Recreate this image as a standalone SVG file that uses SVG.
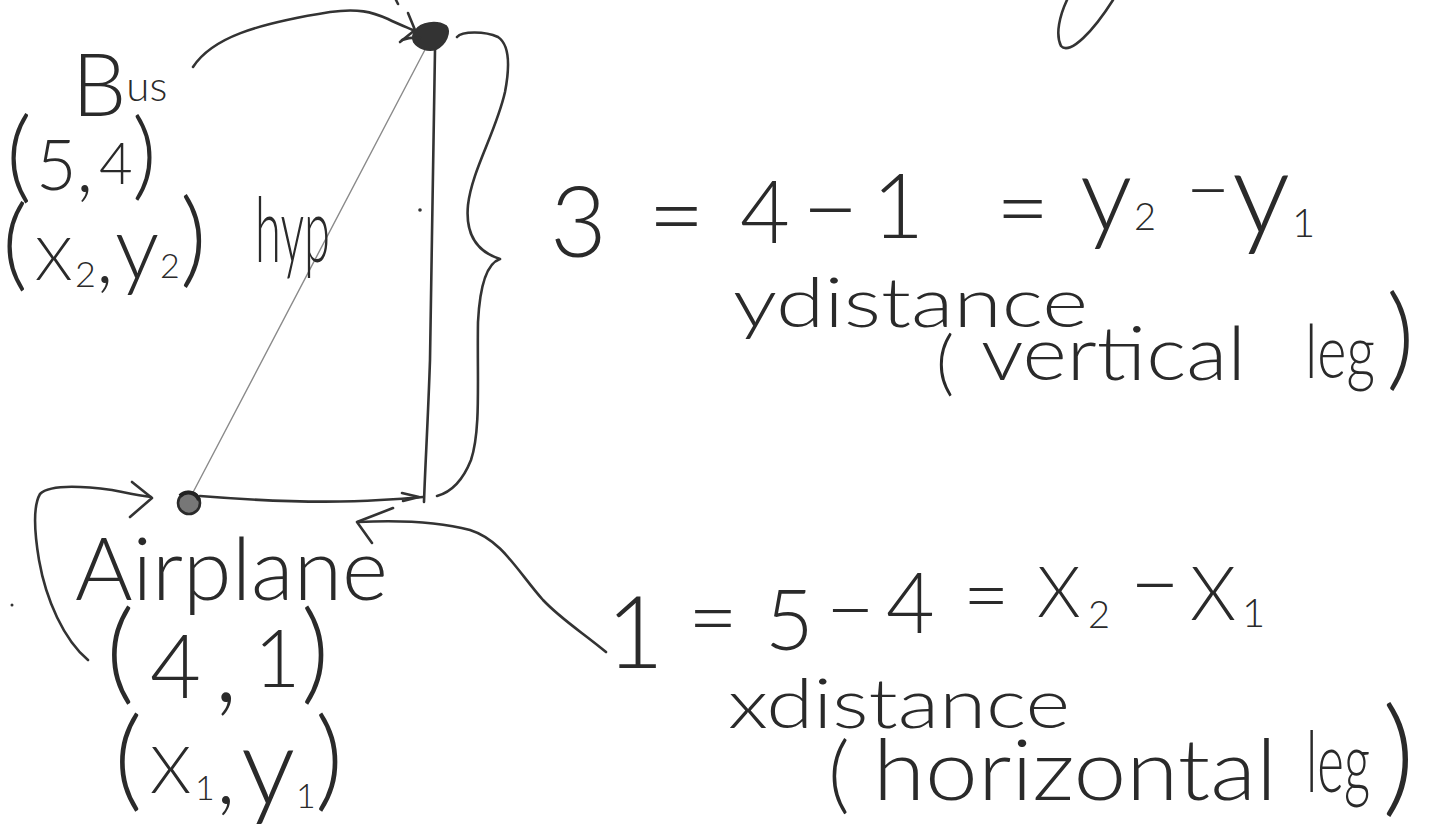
<svg xmlns="http://www.w3.org/2000/svg" width="1438" height="840" viewBox="0 0 1438 840">
<style>
.hw{font-family:Lato,"Liberation Sans","DejaVu Sans",sans-serif;font-weight:300;fill:#2a2a2a}
.ln{fill:none;stroke:#333;stroke-width:2.6;stroke-linecap:round;stroke-linejoin:round}
.thin{fill:none;stroke:#8a8a8a;stroke-width:1.4;stroke-linecap:round}
</style>
<rect width="1438" height="840" fill="#fff"/>

<g id="connectors">
  <!-- hypotenuse -->
  <path class="thin" d="M189,500 L428,44"/>
  <!-- vertical leg -->
  <path class="ln" d="M435,50 C433,130 432,260 430,360 C428,420 425,470 424,502"/>
  <!-- horizontal leg -->
  <path class="ln" d="M200,496 C250,500 320,504 380,500 C400,499 412,498 423,497"/>
  <path class="ln" d="M402,493 L419,497 L403,501"/>
  <!-- brace -->
  <path class="ln" d="M457,37 C462,31 485,31 498,37 C510,45 510,66 505,92 C496,132 472,170 468,205 C465,236 478,252 500,259 M500,259 C488,263 480,282 478,322 C477,380 481,430 471,460 C463,480 452,492 437,496"/>
  <!-- arrow from Bus label to top point -->
  <path class="ln" d="M193,67 C212,38 255,24 330,12 C358,8 372,12 388,19 C398,24 406,27 413,30"/>
  <path class="ln" d="M408,13 L415,30 L400,42"/>
  <!-- arrow from Airplane label to bottom point -->
  <path class="ln" d="M88,660 C64,640 46,600 39,560 C34,530 33,506 40,494 C50,484 82,486 112,490 C127,493 140,496 151,497"/>
  <path class="ln" d="M132,482 L152,498 L130,517"/>
  <!-- arrow from x distance to horizontal leg -->
  <path class="ln" d="M606,652 C582,632 562,620 543,600 C518,572 502,540 470,530 C440,522 400,520 358,522"/>
  <path class="ln" d="M393,508 L357,522 L372,543"/>
  <!-- fragment at top edge -->
  <path class="ln" d="M1067,0 C1060,15 1055,34 1061,46 C1070,56 1094,30 1113,0"/>
  <path class="ln" d="M396,0 L398,4"/>
</g>

<g id="bus">
  <path d="M416,30 C421,23 436,20 446,26 C451,32 446,44 436,49 C428,52 418,48 414,42 C412,38 413,33 416,30 Z" fill="#333" stroke="#333" stroke-width="2"/>
  <path class="ln" d="M402,40 C408,38 414,37 420,38"/>
  <text class="hw" x="72" y="116" font-size="86">B<tspan font-size="42" y="101">us</tspan></text>
  <text class="hw" y="190"><tspan x="6" y="190" font-size="100">(</tspan><tspan x="36" y="190" font-size="70">5</tspan><tspan x="76" y="192" font-size="80">,</tspan><tspan x="99" y="184" font-size="58">4</tspan><tspan x="132" y="188" font-size="96">)</tspan></text>
  <text class="hw" y="280"><tspan x="2" y="278" font-size="100">(</tspan><tspan x="35" y="280" font-size="60">X</tspan><tspan x="75" y="287" font-size="36">2</tspan><tspan x="96" y="283" font-size="80">,</tspan><tspan x="115" y="279" font-size="88">y</tspan><tspan x="160" y="278" font-size="34">2</tspan><tspan x="180" y="274" font-size="104">)</tspan></text>
</g>

<g id="hyp-label">
  <text class="hw" x="255" y="262" font-size="90" textLength="75" lengthAdjust="spacingAndGlyphs">hyp</text>
  <circle cx="420" cy="210" r="1.8" fill="#333"/>
</g>

<g id="airplane">
  <circle cx="189" cy="503" r="11" fill="#777" stroke="#2a2a2a" stroke-width="2.6"/>
  <path d="M180,496 C186,490 196,492 199,500" fill="none" stroke="#222" stroke-width="4"/>
  <text class="hw" x="75" y="600" font-size="86" textLength="313" lengthAdjust="spacingAndGlyphs">Airplane</text>
  <text class="hw" y="690"><tspan x="106" y="690" font-size="110">(</tspan><tspan x="150" y="698" font-size="88">4</tspan><tspan x="214" y="702" font-size="110">,</tspan><tspan x="254" y="687" font-size="80">1</tspan><tspan x="301" y="690" font-size="110">)</tspan></text>
  <text class="hw" y="797"><tspan x="114" y="797" font-size="110">(</tspan><tspan x="150" y="793" font-size="66">X</tspan><tspan x="195" y="800" font-size="34">1</tspan><tspan x="216" y="804" font-size="90">,</tspan><tspan x="241" y="805" font-size="108">y</tspan><tspan x="296" y="808" font-size="34">1</tspan><tspan x="315" y="797" font-size="110">)</tspan></text>
  <circle cx="12" cy="605" r="1.5" fill="#333"/>
</g>

<g id="vertical-leg-label">
  <text class="hw" y="250"><tspan x="550" y="257" font-size="98">3</tspan><tspan x="648" y="250" font-size="98">=</tspan><tspan x="740" y="243" font-size="86">4</tspan><tspan x="802" y="243" font-size="98">−</tspan><tspan x="872" y="238" font-size="90">1</tspan><tspan x="996" y="240" font-size="92">=</tspan><tspan x="1080" y="231" font-size="104">y</tspan><tspan x="1134" y="230" font-size="38">2</tspan><tspan x="1186" y="216" font-size="76">−</tspan><tspan x="1232" y="233" font-size="116">y</tspan><tspan x="1292" y="237" font-size="40">1</tspan></text>
  <text class="hw" x="733" y="327" font-size="68" textLength="355" lengthAdjust="spacingAndGlyphs">ydistance</text>
  <text class="hw" y="380"><tspan x="936" y="387" font-size="70">(</tspan><tspan x="981" y="380" font-size="74" textLength="265" lengthAdjust="spacingAndGlyphs">vertical</tspan><tspan x="1305" y="378" font-size="74" textLength="70" lengthAdjust="spacingAndGlyphs">leg</tspan><tspan x="1386" y="376" font-size="112">)</tspan></text>
</g>

<g id="horizontal-leg-label">
  <text class="hw" y="650"><tspan x="606" y="668" font-size="100">1</tspan><tspan x="688" y="648" font-size="86">=</tspan><tspan x="765" y="650" font-size="84">5</tspan><tspan x="826" y="639" font-size="84">−</tspan><tspan x="886" y="633" font-size="84">4</tspan><tspan x="963" y="624" font-size="80">=</tspan><tspan x="1037" y="617" font-size="70">X</tspan><tspan x="1088" y="628" font-size="38">2</tspan><tspan x="1130" y="615" font-size="86">−</tspan><tspan x="1190" y="620" font-size="74">X</tspan><tspan x="1242" y="627" font-size="40">1</tspan></text>
  <text class="hw" x="728" y="728" font-size="68" textLength="342" lengthAdjust="spacingAndGlyphs">xdistance</text>
  <text class="hw" y="800"><tspan x="828" y="803" font-size="84">(</tspan><tspan x="873" y="800" font-size="84" textLength="404" lengthAdjust="spacingAndGlyphs">horizontal</tspan><tspan x="1306" y="792" font-size="84" textLength="64" lengthAdjust="spacingAndGlyphs">leg</tspan><tspan x="1382" y="800" font-size="128">)</tspan></text>
</g>
</svg>
